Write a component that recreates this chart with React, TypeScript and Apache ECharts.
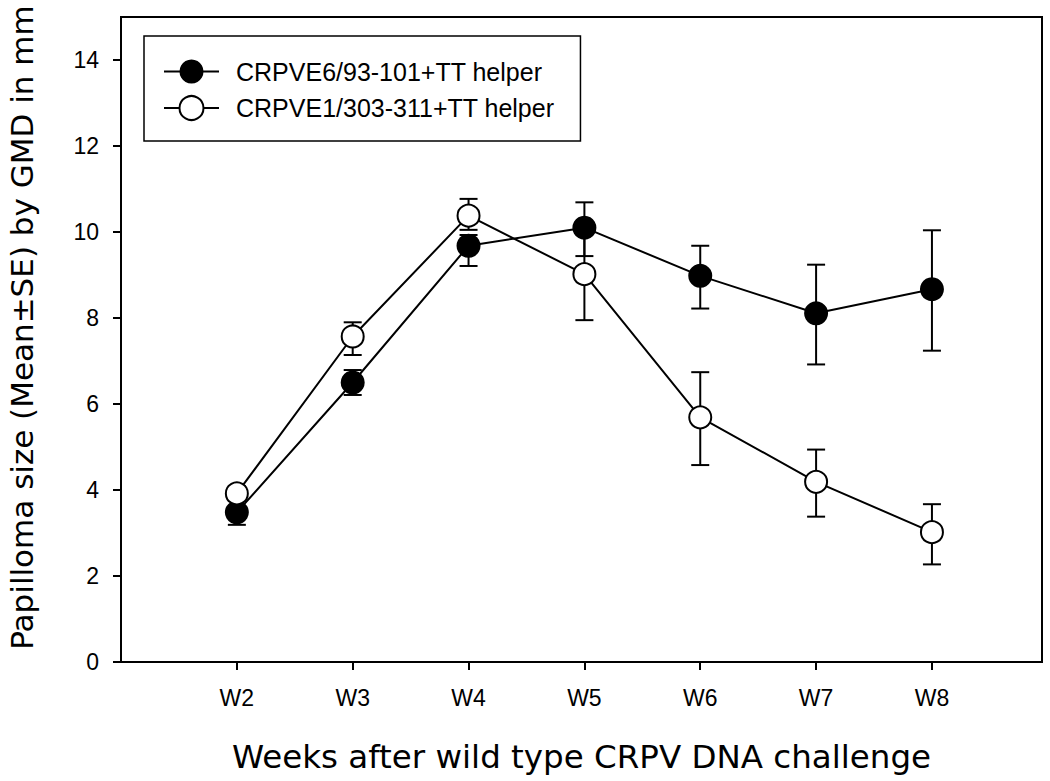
import React, { useEffect, useRef } from "react";
import * as echarts from "echarts";

const categories = ["W2", "W3", "W4", "W5", "W6", "W7", "W8"];
const seriesNames = ["CRPVE6/93-101+TT helper", "CRPVE1/303-311+TT helper"];

const e6Mean = [3.48, 6.5, 9.68, 10.1, 8.98, 8.11, 8.67];
const e6Low = [3.19, 6.21, 9.21, 9.44, 8.22, 6.92, 7.24];
const e6High = [3.77, 6.79, 9.93, 10.69, 9.68, 9.24, 10.04];

const e1Mean = [3.92, 7.57, 10.38, 9.02, 5.69, 4.19, 3.02];
const e1Low = [3.75, 7.14, 10.05, 7.95, 4.58, 3.38, 2.27];
const e1High = [4.09, 7.9, 10.77, 10.09, 6.74, 4.94, 3.67];

const yTicks = [0, 2, 4, 6, 8, 10, 12, 14];
const xTicks = categories.map((_, i) => i + 2);

const yTitle = "Papilloma size (Mean±SE) by GMD in mm";
const xTitle = "Weeks after wild type CRPV DNA challenge";

const errRender = (params: any, api: any) => {
  const x = api.value(0);
  const lo = api.coord([x, api.value(1)]);
  const hi = api.coord([x, api.value(2)]);
  const w = 9;
  const style = { stroke: "#000", lineWidth: 2 };
  return {
    type: "group",
    children: [
      { type: "line", shape: { x1: lo[0], y1: lo[1], x2: hi[0], y2: hi[1] }, style },
      { type: "line", shape: { x1: lo[0] - w, y1: lo[1], x2: lo[0] + w, y2: lo[1] }, style },
      { type: "line", shape: { x1: hi[0] - w, y1: hi[1], x2: hi[0] + w, y2: hi[1] }, style },
    ],
  };
};

export default function App() {
  const ref = useRef<HTMLDivElement>(null);
  useEffect(() => {
    if (!ref.current) return;
    const chart = echarts.init(ref.current, undefined, { renderer: "svg" });
    const tickFont = { fontFamily: "Liberation Sans", fontSize: 23, color: "#000" };
    chart.setOption({
      animation: false,
      backgroundColor: "#fff",
      grid: {
        left: 121,
        right: 8,
        top: 17,
        bottom: 119,
        show: true,
        borderColor: "#000",
        borderWidth: 2,
        containLabel: false,
        outerBoundsMode: "none",
      },
      legend: {
        data: seriesNames,
        orient: "vertical",
        left: 144,
        top: 36,
        padding: [23, 26, 20, 19],
        itemWidth: 55,
        itemHeight: 30,
        itemGap: 11,
        borderColor: "#000",
        borderWidth: 1.5,
        selectedMode: false,
        textStyle: {
          fontFamily: "Liberation Sans",
          fontSize: 25,
          color: "#000",
          padding: [0, 0, 0, 12],
        },
      },
      xAxis: {
        type: "value",
        min: 1,
        max: 8.95,
        name: xTitle,
        nameLocation: "middle",
        nameGap: 78,
        nameTextStyle: { fontFamily: "DejaVu Sans", fontSize: 32.5, color: "#000" },
        axisLine: { show: true, lineStyle: { color: "#000", width: 2 } },
        axisTick: {
          show: true,
          customValues: xTicks,
          length: 8,
          lineStyle: { color: "#000", width: 2 },
        },
        axisLabel: {
          customValues: xTicks,
          formatter: (v: number) => categories[Math.round(v) - 2] ?? "",
          margin: 24,
          ...tickFont,
        },
        splitLine: { show: false },
      },
      yAxis: {
        type: "value",
        min: 0,
        max: 15,
        name: yTitle,
        nameLocation: "middle",
        nameRotate: 90,
        nameGap: 84,
        nameTextStyle: {
          fontFamily: "DejaVu Sans",
          fontSize: 31,
          color: "#000",
          padding: [0, 0, 0, 24],
        },
        axisLine: { show: true, lineStyle: { color: "#000", width: 2 } },
        axisTick: {
          show: true,
          customValues: yTicks,
          length: 8,
          lineStyle: { color: "#000", width: 2 },
        },
        axisLabel: {
          customValues: yTicks,
          margin: 22,
          ...tickFont,
        },
        splitLine: { show: false },
      },
      series: [
        {
          name: "err-e6",
          type: "custom",
          z: 1,
          silent: true,
          renderItem: errRender,
          encode: { x: 0, y: [1, 2] },
          data: categories.map((_, i) => [i + 2, e6Low[i], e6High[i]]),
        },
        {
          name: "err-e1",
          type: "custom",
          z: 1,
          silent: true,
          renderItem: errRender,
          encode: { x: 0, y: [1, 2] },
          data: categories.map((_, i) => [i + 2, e1Low[i], e1High[i]]),
        },
        {
          name: seriesNames[0],
          type: "line",
          z: 2,
          silent: true,
          symbol: "circle",
          symbolSize: 24,
          itemStyle: { color: "#000" },
          lineStyle: { color: "#000", width: 2 },
          emphasis: { disabled: true },
          data: categories.map((_, i) => [i + 2, e6Mean[i]]),
        },
        {
          name: seriesNames[1],
          type: "line",
          z: 3,
          silent: true,
          symbol: "circle",
          symbolSize: 22,
          itemStyle: { color: "#fff", borderColor: "#000", borderWidth: 2 },
          lineStyle: { color: "#000", width: 2 },
          emphasis: { disabled: true },
          data: categories.map((_, i) => [i + 2, e1Mean[i]]),
        },
      ],
    });
    return () => chart.dispose();
  }, []);
  return (
    <div
      ref={ref}
      style={{ position: "absolute", left: 0, top: 0, width: 1050, height: 781, background: "#fff" }}
    />
  );
}
